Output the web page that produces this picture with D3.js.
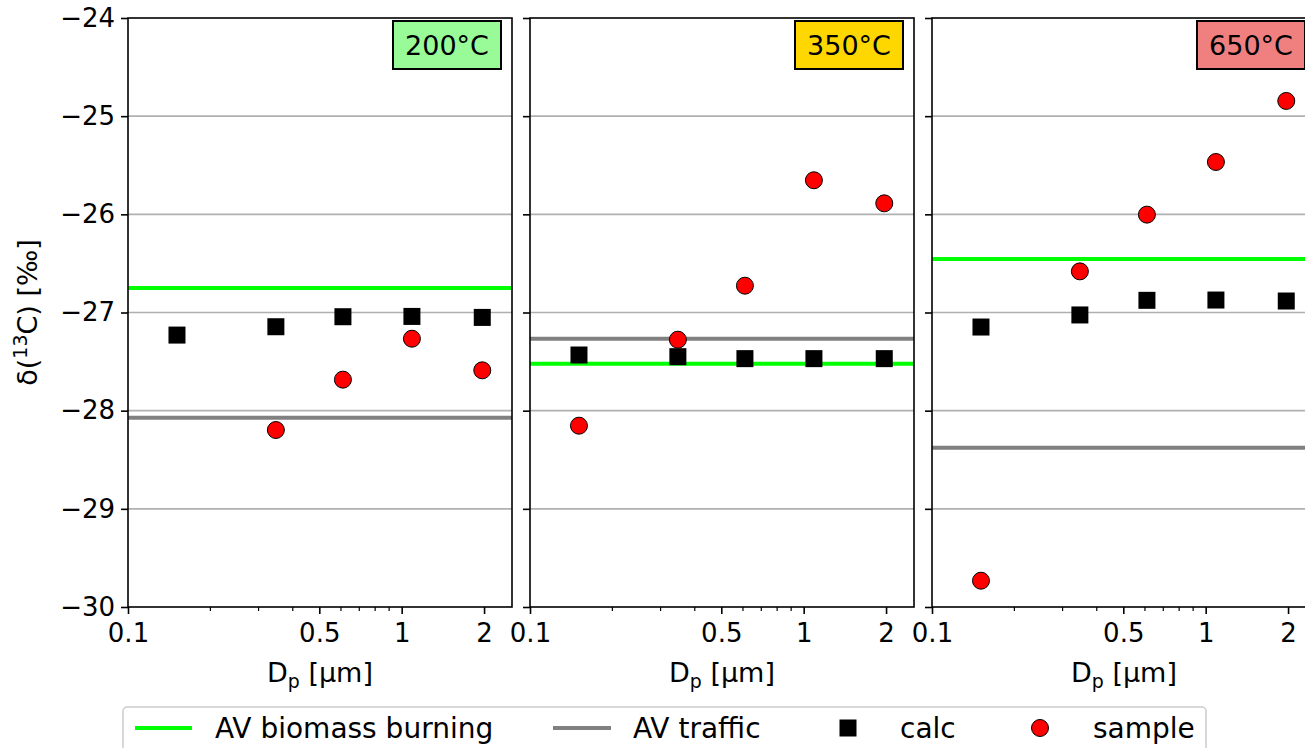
<!DOCTYPE html>
<html>
<head>
<meta charset="utf-8">
<script src="https://d3js.org/d3.v7.min.js"></script>
<style>
  body { margin: 0; background: white; }
  svg { font-family: "DejaVu Sans", sans-serif; }
</style>
</head>
<body>
<svg id="chart" width="1305" height="748"></svg>
<script>
// data
const dp = [0.151, 0.347, 0.61, 1.09, 1.97];
const temps = ["200°C", "350°C", "650°C"];
const calc200 = [-27.23, -27.145, -27.043, -27.04, -27.05];
const calc350 = [-27.433, -27.45, -27.47, -27.47, -27.47];
const calc650 = [-27.148, -27.025, -26.876, -26.873, -26.883];
const sample200 = [null, -28.197, -27.684, -27.267, -27.589];
const sample350 = [-28.153, -27.277, -26.727, -25.653, -25.888];
const sample650 = [-29.732, -26.581, -26.003, -25.467, -24.845];
const biomass = [-26.75, -27.521, -26.455];
const traffic = [-28.072, -27.267, -28.377];
const yTicks = [-30, -29, -28, -27, -26, -25, -24];
const xTicks = [0.1, 0.5, 1, 2];
const legendLabels = ["AV biomass burning", "AV traffic", "calc", "sample"];

const calcs = [calc200, calc350, calc650];
const samples = [sample200, sample350, sample650];
const boxFill = ["#98fb98", "#ffd700", "#f08080"];

const svg = d3.select("#chart");
const plotTop = 18, plotBottom = 607, pw = 384, left0 = 128, step = 402;
const fs = 27, tfs = 26, lfs = 28;

const y = d3.scaleLinear().domain([-30, -24]).range([plotBottom, plotTop]);

for (let p = 0; p < 3; p++) {
  const x0 = left0 + p * step;
  const x = d3.scaleLog().domain([0.1, 2.53]).range([x0, x0 + pw]);
  const g = svg.append("g");

  // grid
  g.selectAll(".grid").data(yTicks.slice(1, -1)).enter().append("line")
    .attr("x1", x0).attr("x2", x0 + pw)
    .attr("y1", d => y(d)).attr("y2", d => y(d))
    .attr("stroke", "#b0b0b0").attr("stroke-width", 1.6);

  // reference lines
  g.append("line").attr("x1", x0).attr("x2", x0 + pw)
    .attr("y1", y(biomass[p])).attr("y2", y(biomass[p]))
    .attr("stroke", "#00ff00").attr("stroke-width", 4);
  g.append("line").attr("x1", x0).attr("x2", x0 + pw)
    .attr("y1", y(traffic[p])).attr("y2", y(traffic[p]))
    .attr("stroke", "#808080").attr("stroke-width", 4);

  // calc squares
  g.selectAll(".sq").data(calcs[p]).enter().append("rect")
    .attr("x", (d, i) => x(dp[i]) - 8.5).attr("y", d => y(d) - 8.5)
    .attr("width", 17).attr("height", 17)
    .attr("fill", "black");

  // sample circles
  const sd = samples[p].map((v, i) => [dp[i], v]).filter(d => d[1] !== null);
  g.selectAll(".c").data(sd).enter().append("circle")
    .attr("cx", d => x(d[0])).attr("cy", d => y(d[1])).attr("r", 8.5)
    .attr("fill", "red").attr("stroke", "black").attr("stroke-width", 1);

  // axes
  const xa = g.append("g").attr("transform", "translate(0," + plotBottom + ")")
    .call(d3.axisBottom(x).tickValues(xTicks).tickFormat(d3.format("")).tickSize(7).tickPadding(10));
  const minors = [0.2, 0.3, 0.4, 0.6, 0.7, 0.8, 0.9];
  g.selectAll(".minor").data(minors).enter().append("line")
    .attr("x1", d => x(d)).attr("x2", d => x(d))
    .attr("y1", plotBottom).attr("y2", plotBottom + 4)
    .attr("stroke", "black").attr("stroke-width", 1.2);

  const ya = g.append("g").attr("transform", "translate(" + x0 + ",0)")
    .call(d3.axisLeft(y).tickValues(yTicks).tickSize(7).tickPadding(6)
      .tickFormat(d => p === 0 ? String(d).replace("-", "\u2212") : ""));
  [xa, ya].forEach(a => {
    a.select(".domain").remove();
    a.selectAll(".tick line").attr("stroke", "black").attr("stroke-width", 1.6);
    a.selectAll("text").attr("font-size", tfs).attr("fill", "black")
      .attr("font-family", "DejaVu Sans");
  });

  // frame
  g.append("rect").attr("x", x0).attr("y", plotTop).attr("width", pw).attr("height", plotBottom - plotTop)
    .attr("fill", "none").attr("stroke", "black").attr("stroke-width", 1.6);

  // temperature label
  const bx = x0 + pw - 119, by = 21;
  g.append("rect").attr("x", bx).attr("y", by).attr("width", 108).attr("height", 48)
    .attr("fill", boxFill[p]).attr("stroke", "black").attr("stroke-width", 2);
  g.append("text").attr("x", bx + 54).attr("y", by + 34).attr("text-anchor", "middle")
    .attr("font-size", fs).text(temps[p]);

  // x label
  const xl = g.append("text").attr("x", x0 + pw / 2).attr("y", 682)
    .attr("text-anchor", "middle").attr("font-size", fs);
  xl.append("tspan").text("D");
  xl.append("tspan").attr("font-size", fs * 0.7).attr("dy", 6).text("p");
  xl.append("tspan").attr("dy", -6).text(" [µm]");
}

// y label
const yl = svg.append("text").attr("transform", "translate(37," + y(-27) + ") rotate(-90)")
  .attr("text-anchor", "middle").attr("font-size", fs);
yl.append("tspan").text("δ(");
yl.append("tspan").attr("font-size", fs * 0.7).attr("dy", -10).text("13");
yl.append("tspan").attr("dy", 10).text("C) [‰]");

// legend
const lg = svg.append("g");
lg.append("rect").attr("x", 123).attr("y", 707).attr("width", 1083).attr("height", 60)
  .attr("rx", 4).attr("fill", "white").attr("stroke", "#cccccc").attr("stroke-width", 1.5);
const ly = 728;
lg.append("line").attr("x1", 135).attr("x2", 192).attr("y1", ly).attr("y2", ly)
  .attr("stroke", "#00ff00").attr("stroke-width", 4);
lg.append("line").attr("x1", 553).attr("x2", 611).attr("y1", ly).attr("y2", ly)
  .attr("stroke", "#808080").attr("stroke-width", 4);
lg.append("rect").attr("x", 848 - 8.5).attr("y", ly - 8.5).attr("width", 17).attr("height", 17)
  .attr("fill", "black");
lg.append("circle").attr("cx", 1040).attr("cy", ly).attr("r", 8.5)
  .attr("fill", "red").attr("stroke", "black");
const lx = [215, 633, 900, 1093];
lg.selectAll(".lt").data(legendLabels).enter().append("text")
  .attr("x", (d, i) => lx[i]).attr("y", ly + 10).attr("font-size", lfs).text(d => d);
</script>
</body>
</html>
